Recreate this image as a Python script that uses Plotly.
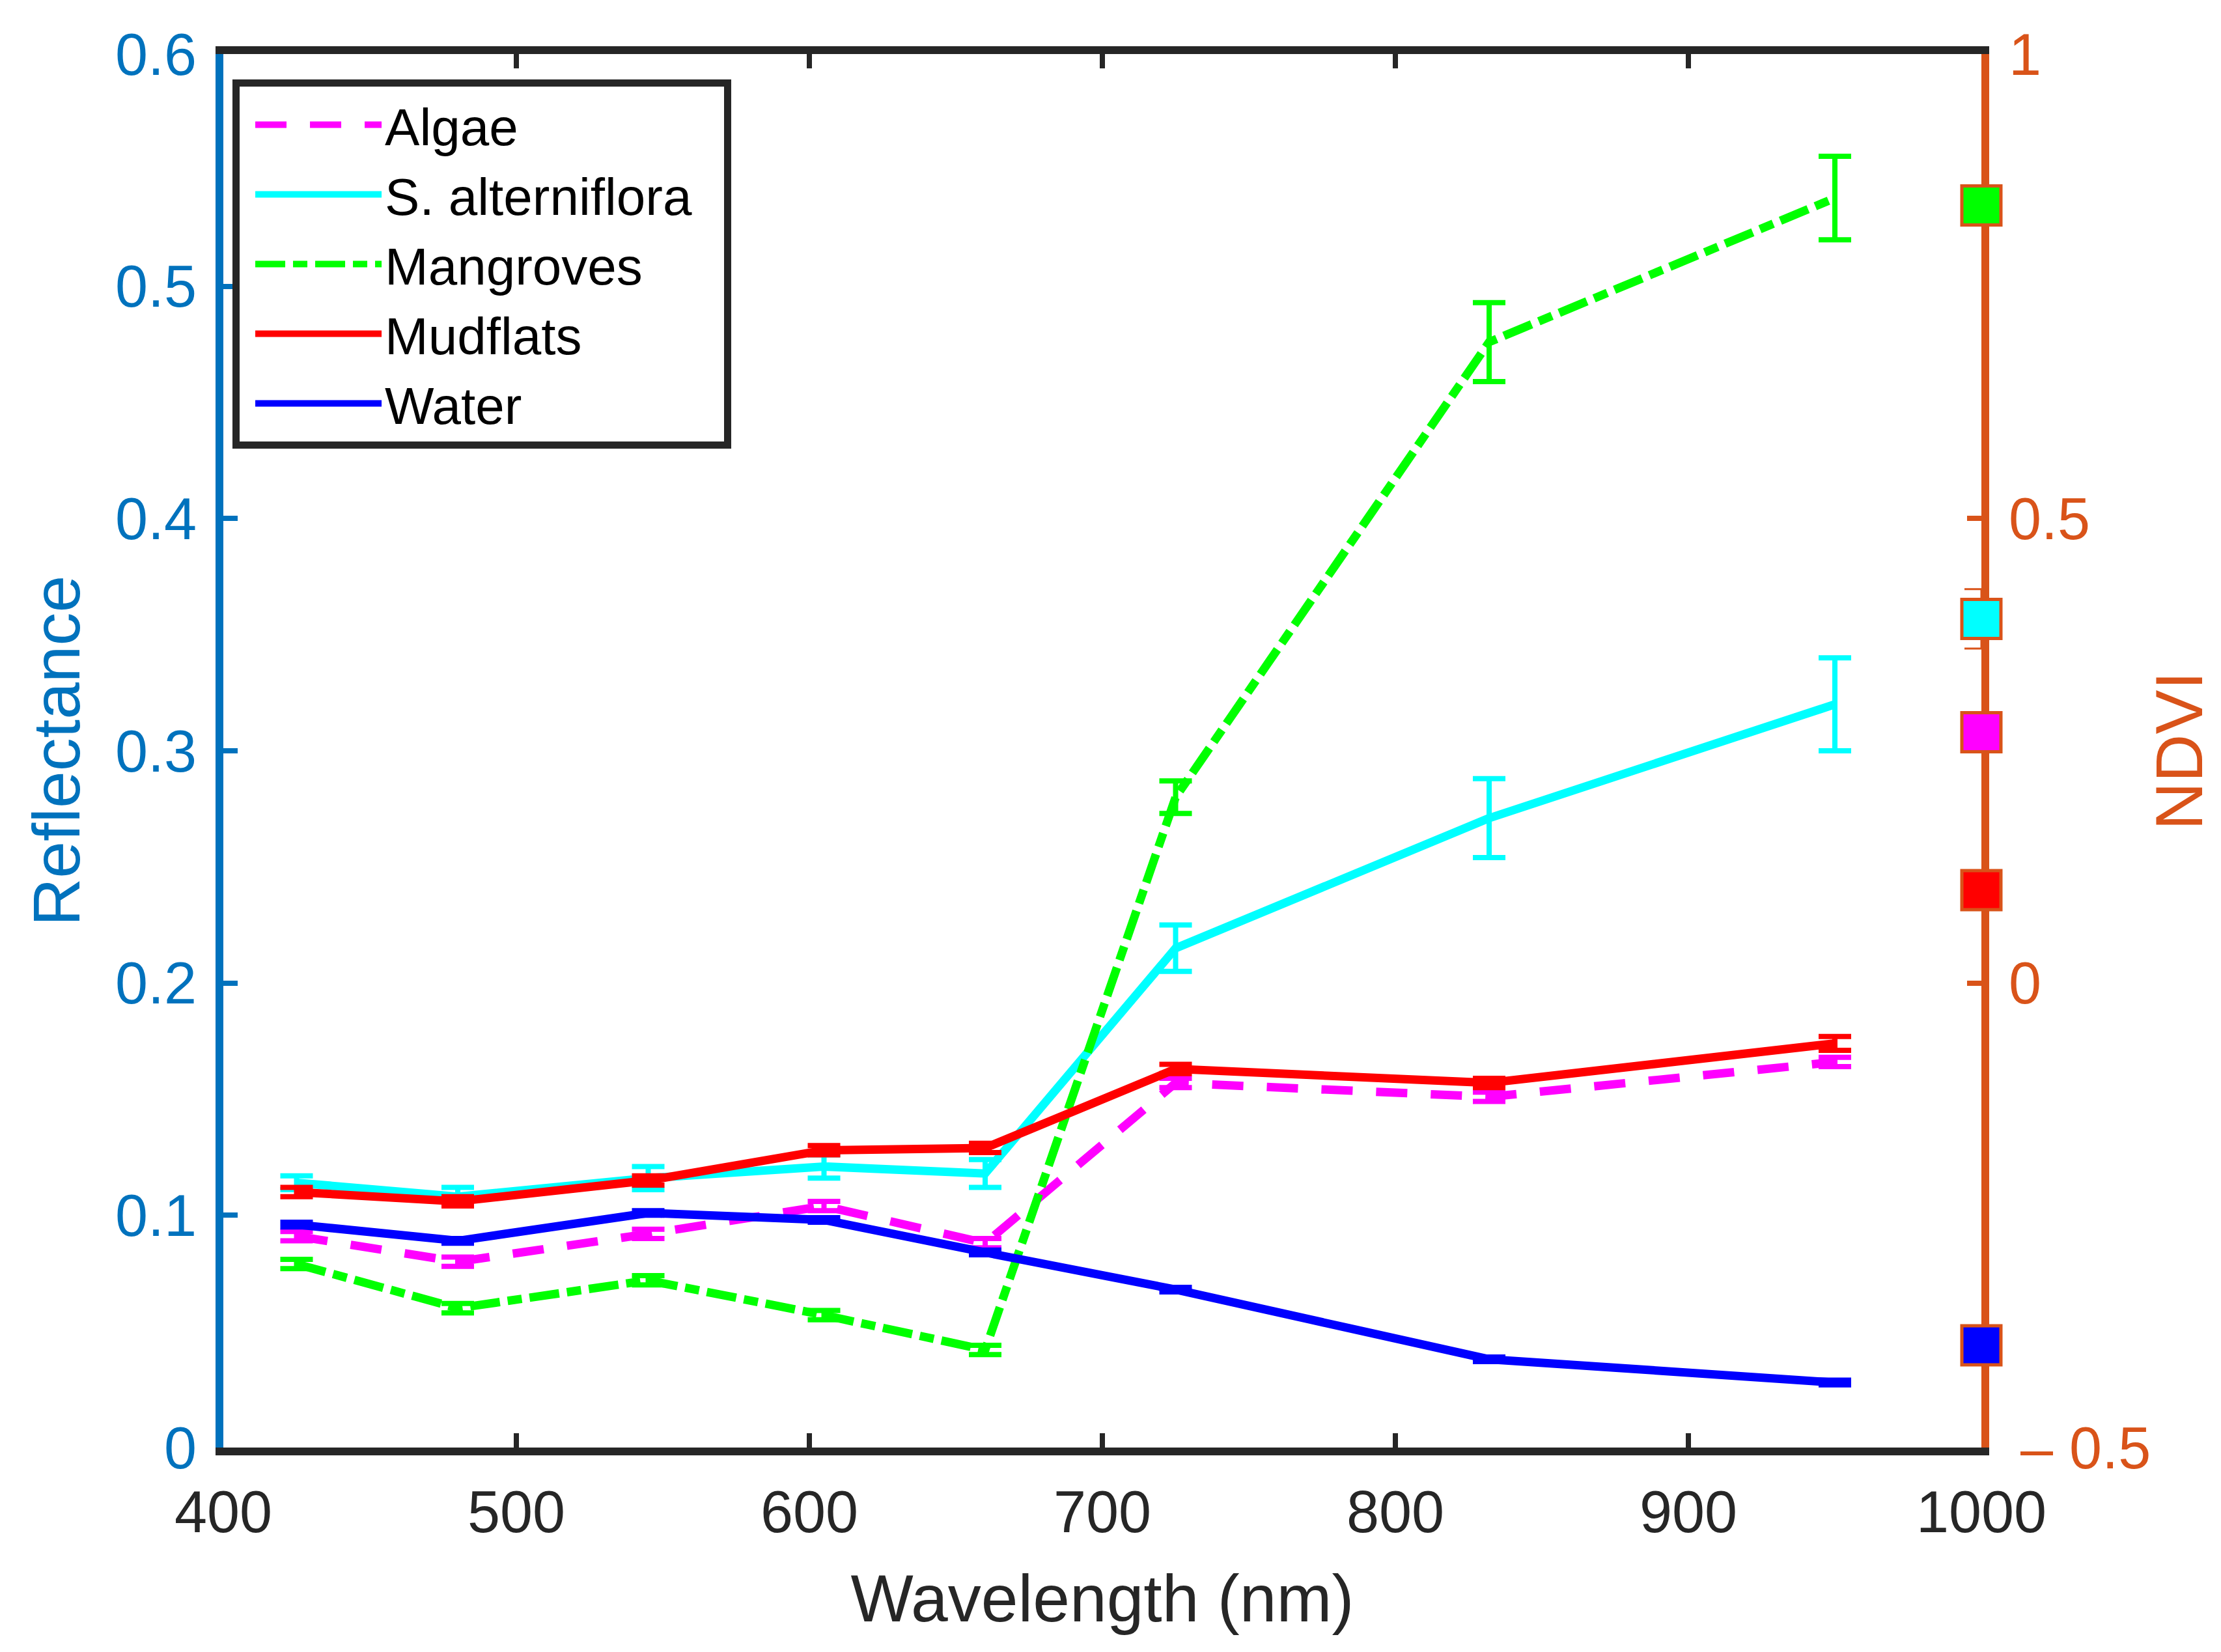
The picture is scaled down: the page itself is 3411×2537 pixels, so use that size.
import plotly.graph_objects as go

# ---------------- data ----------------
wavelength = [425, 480, 545, 605, 660, 725, 832, 950]

series_names = ["Algae", "S. alterniflora\u00a0\u00a0", "Mangroves", "Mudflats", "Water"]

algae = [0.091, 0.080, 0.092, 0.104, 0.088, 0.157, 0.151, 0.166]
algae_err = [0.002, 0.002, 0.002, 0.002, 0.002, 0.002, 0.002, 0.002]

s_alterniflora = [0.114, 0.108, 0.116, 0.121, 0.118, 0.215, 0.271, 0.320]
s_alterniflora_err = [0.003, 0.004, 0.005, 0.005, 0.006, 0.010, 0.017, 0.020]

mangroves = [0.079, 0.060, 0.072, 0.057, 0.042, 0.280, 0.476, 0.538]
mangroves_err = [0.002, 0.002, 0.002, 0.002, 0.002, 0.007, 0.017, 0.018]

mudflats = [0.110, 0.106, 0.115, 0.128, 0.129, 0.163, 0.157, 0.174]
mudflats_err = [0.002, 0.002, 0.002, 0.002, 0.002, 0.002, 0.002, 0.003]

water = [0.096, 0.089, 0.101, 0.098, 0.084, 0.068, 0.038, 0.028]
water_err = [0.001, 0.001, 0.001, 0.001, 0.001, 0.001, 0.001, 0.001]

ndvi_position = [1000, 1000, 1000, 1000, 1000]
ndvi = [0.270, 0.392, 0.837, 0.100, -0.390]
ndvi_err = [0.016, 0.032, 0.010, 0.007, 0.007]

x_ticks = [400, 500, 600, 700, 800, 900, 1000]
y_ticks = [0, 0.1, 0.2, 0.3, 0.4, 0.5, 0.6]
y2_ticks = [-0.5, 0, 0.5, 1]
y2_ticktext = ["\u2009\u2013 0.5", "0", "0.5", "1"]

# ---------------- styles ----------------
colors = ["#FF00FF", "#00FFFF", "#00FF00", "#FF0000", "#0000FF"]
dashes = ["48px,36px", "solid", "46px,12px,22px,12px", "solid", "solid"]
values = [algae, s_alterniflora, mangroves, mudflats, water]
errors = [algae_err, s_alterniflora_err, mangroves_err, mudflats_err, water_err]

BLUE_AX = "#0072BD"
ORANGE_AX = "#D95319"
DARK = "#262626"
FONT = "Liberation Sans, Arial, sans-serif"
TICK_SIZE = 90
TITLE_SIZE = 102

fig = go.Figure()

for name, col, dsh, v, e in zip(series_names, colors, dashes, values, errors):
    fig.add_trace(go.Scatter(
        x=wavelength, y=v, name=name, mode="lines",
        line=dict(color=col, width=13, dash=dsh),
        error_y=dict(type="data", array=e, visible=True, color=col,
                     thickness=8, width=25),
        yaxis="y",
    ))

fig.add_trace(go.Scatter(
    x=ndvi_position, y=ndvi, mode="markers", showlegend=False,
    marker=dict(symbol="square", size=60, color=colors,
                line=dict(color=ORANGE_AX, width=5)),
    error_y=dict(type="data", array=ndvi_err, visible=True, color=ORANGE_AX,
                 thickness=3, width=26),
    cliponaxis=False,
    yaxis="y2",
))

fig.update_layout(
    width=3411, height=2537,
    margin=dict(l=335, r=376, t=75, b=322),
    paper_bgcolor="white", plot_bgcolor="white",
    font=dict(family=FONT, size=TICK_SIZE, color=DARK),
    showlegend=True,
    legend=dict(
        x=0.0052, y=0.9818, xanchor="left", yanchor="top",
        bgcolor="white", bordercolor=DARK, borderwidth=11,
        font=dict(family=FONT, size=80, color="black"),
        itemwidth=194, tracegroupgap=0, indentation=19,
    ),
    xaxis=dict(
        range=[400, 1000], tickvals=x_ticks, ticks="inside", ticklen=22,
        tickwidth=8, tickcolor=DARK, showline=True, linewidth=12,
        linecolor=DARK, mirror="ticks", showgrid=False, zeroline=False,
        tickfont=dict(family=FONT, size=TICK_SIZE, color=DARK),
        ticklabelstandoff=10,
        title=dict(text="Wavelength (nm)", standoff=53,
                   font=dict(family=FONT, size=TITLE_SIZE, color=DARK)),
        layer="below traces",
    ),
    yaxis=dict(
        range=[0, 0.6], tickvals=y_ticks, ticks="inside", ticklen=22,
        tickwidth=8, tickcolor=BLUE_AX, showline=True, linewidth=12,
        linecolor=BLUE_AX, showgrid=False, zeroline=False,
        tickfont=dict(family=FONT, size=TICK_SIZE, color=BLUE_AX),
        ticklabelstandoff=11,
        title=dict(text="Reflectance", standoff=25,
                   font=dict(family=FONT, size=TITLE_SIZE, color=BLUE_AX)),
        layer="below traces",
    ),
    yaxis2=dict(
        range=[-0.5, 1], tickvals=y2_ticks, ticktext=y2_ticktext,
        overlaying="y", side="right", ticks="inside", ticklen=22,
        tickwidth=8, tickcolor=ORANGE_AX, showline=True, linewidth=12,
        linecolor=ORANGE_AX, showgrid=False, zeroline=False,
        tickfont=dict(family=FONT, size=TICK_SIZE, color=ORANGE_AX),
        ticklabelstandoff=12,
        title=dict(text="NDVI", standoff=13,
                   font=dict(family=FONT, size=TITLE_SIZE, color=ORANGE_AX)),
        layer="below traces",
    ),
)

fig.write_html("out.html")
